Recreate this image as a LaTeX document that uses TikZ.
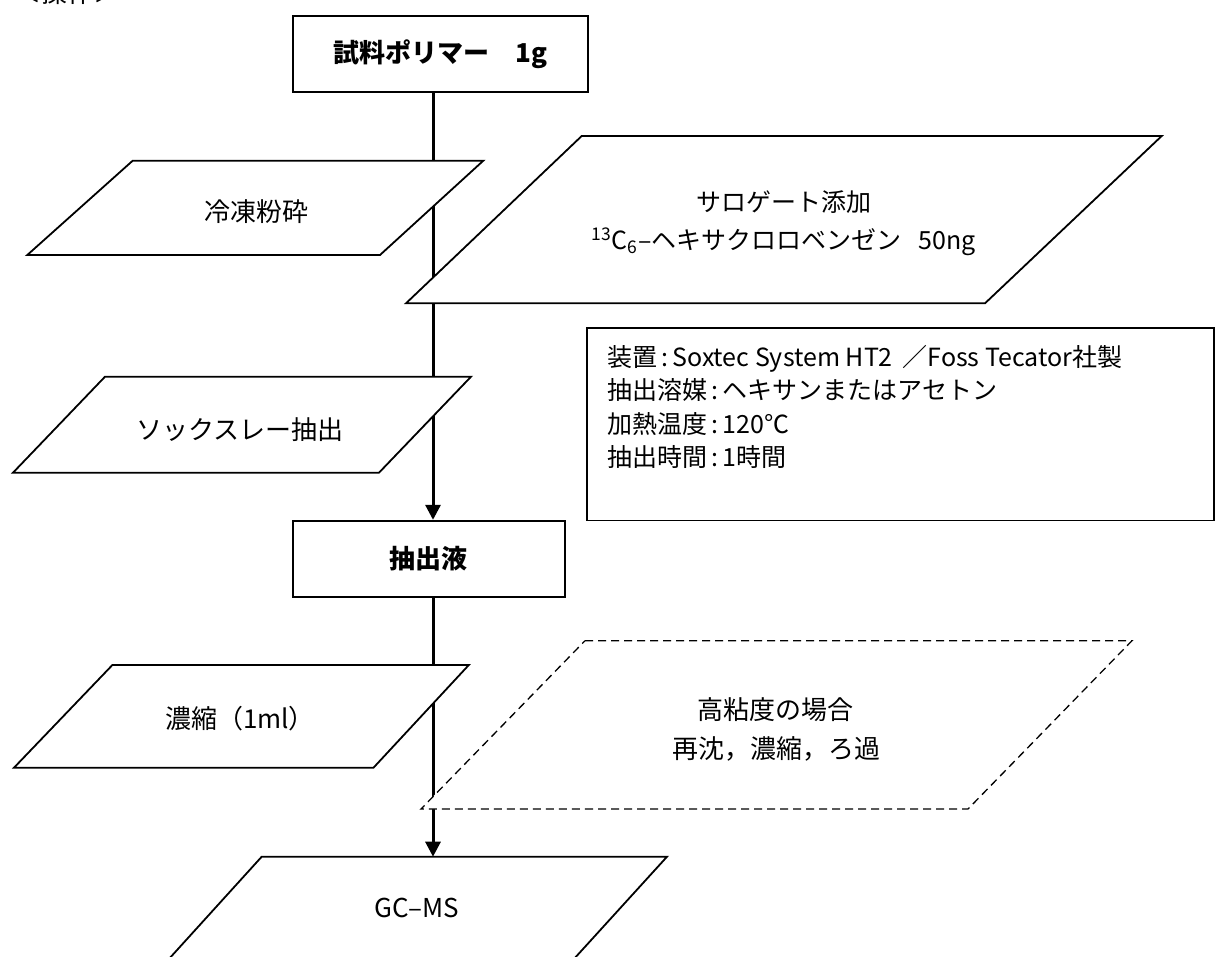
\documentclass[tikz,border=0pt]{standalone}
\usepackage{fontspec}
\setmainfont{Noto Sans CJK JP}
\usetikzlibrary{arrows.meta}
\begin{document}
\begin{tikzpicture}[x=1pt,y=-1pt,
  font=\fontsize{26}{32}\selectfont,
  conn/.style={line width=3pt,-{Triangle[length=15pt,width=15pt]}},
  boxnode/.style={draw,line width=1.8pt,fill=white,inner sep=0pt,font=\fontsize{26}{32}\selectfont\bfseries},
  parashape/.style={draw,line width=1.8pt,fill=white,line join=miter},
  dparashape/.style={draw,line width=1.3pt,dash pattern=on 8pt off 5pt,fill=white},
  lbl/.style={align=center,inner sep=0pt}]
\useasboundingbox (0,0) rectangle (1215,956);
\fill[white] (0,0) rectangle (1215,956);

% header (cut off at top, as in the reference)
\node[anchor=south west,inner sep=0pt] (hdr) at (15,5) {＜操作＞};

% boxes
\node[boxnode,minimum width=295pt,minimum height=75.7pt] (top) at (440.2,53.85) {試料ポリマー　1g};
\node[boxnode,minimum width=272.3pt,minimum height=76pt] (ext) at (428.85,558.7) {抽出液};

% spine
\coordinate (spine) at (433,0);
\coordinate (gctop) at (433,856.7);
\draw[conn] (top.south -| spine) -- (ext.north -| spine);
\draw[conn] (ext.south -| spine) -- (gctop);

% 冷凍粉砕
\draw[parashape] (132.7,160.7) -- (483.3,160.7) -- (380,255) -- (27.3,255) -- cycle;
\node[lbl] (frz) at (256,212) {冷凍粉砕};

% surrogate
\draw[parashape] (581.7,136) -- (1161.7,136) -- (985,303.3) -- (406,303.3) -- cycle;
\node[lbl,font=\fontsize{25}{30}\selectfont] (sur1) at (783.5,201.7) {サロゲート添加};
\node[lbl,font=\fontsize{25}{30}\selectfont] (sur2) at (784,241.7) {\textsuperscript{13}C\textsubscript{6}–ヘキサクロロベンゼン\hspace{0.7em}50ng};

% info box
\draw[line width=1.8pt] (587.3,328.3) rectangle (1214,520.5);
\node[anchor=west,align=left,inner sep=0pt,font=\fontsize{25}{33.5}\selectfont] (info) at (607,407)
  {装置\,:\,Soxtec System HT2 \,／Foss Tecator社製\\
   抽出溶媒\,:\,ヘキサンまたはアセトン\\
   加熱温度\,:\,120℃\\
   抽出時間\,:\,1時間};

% soxhlet
\draw[parashape] (105,376.7) -- (471,376.7) -- (379,472.7) -- (13,472.7) -- cycle;
\node[lbl] (sox) at (240,430) {ソックスレー抽出};

% concentrate
\draw[parashape] (112.4,665) -- (468.8,665) -- (373.5,767.7) -- (14,767.7) -- cycle;
\node[lbl] (conc) at (240,719) {濃縮（1ml）};

% dashed optional
\draw[dparashape] (585,640.7) -- (1132,640.7) -- (968,809) -- (421,809) -- cycle;
\node[lbl] (hv1) at (775,710) {高粘度の場合};
\node[lbl] (hv2) at (776,749) {再沈，濃縮，ろ過};

% GC-MS
\draw[parashape] (261.7,856.7) -- (667,856.7) -- (573,960) -- (168,960) -- cycle;
\node[lbl] (gc) at (417,908) {GC–MS};
\end{tikzpicture}
\end{document}
